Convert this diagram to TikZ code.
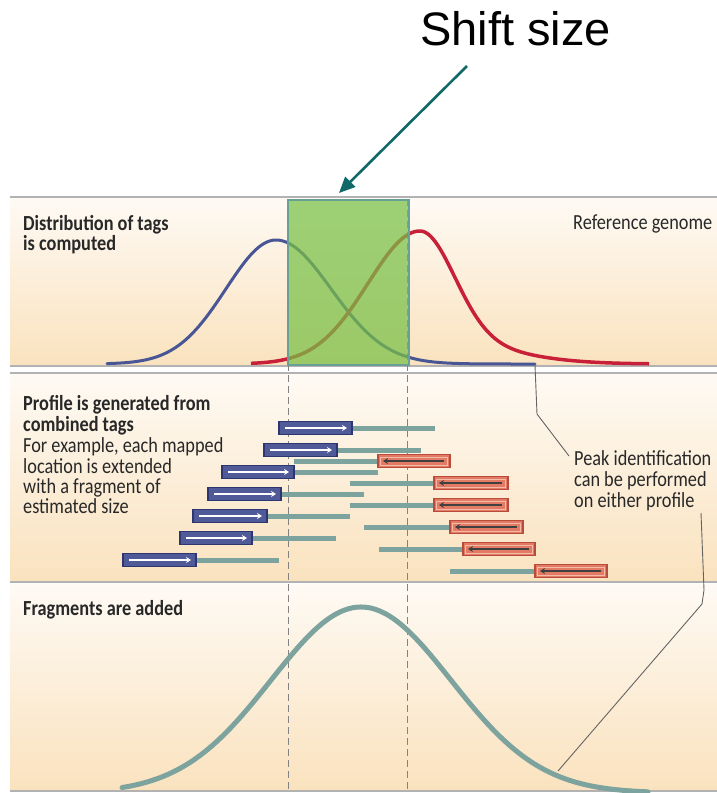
\documentclass[tikz,border=0pt]{standalone}
\usepackage{fontspec}
\setmainfont{Carlito}
\newfontfamily\lblfont[FakeStretch=0.85]{Carlito}
\newfontfamily\arialfont{Liberation Sans}
\usetikzlibrary{arrows.meta}
\definecolor{peach}{RGB}{250,226,190}
\definecolor{cream}{RGB}{254,250,244}
\definecolor{sepgray}{RGB}{178,178,178}
\definecolor{dashgray}{RGB}{130,130,130}
\definecolor{blueline}{RGB}{72,86,150}
\definecolor{redline}{RGB}{200,32,56}
\definecolor{greenfill}{RGB}{120,192,70}
\definecolor{greenedge}{RGB}{105,160,150}
\definecolor{tealbar}{RGB}{124,163,158}
\definecolor{boxblue}{RGB}{80,90,152}
\definecolor{boxblueedge}{RGB}{45,54,110}
\definecolor{boxred}{RGB}{226,122,100}
\definecolor{boxrededge}{RGB}{185,75,60}
\definecolor{boxredinner}{RGB}{245,185,168}
\definecolor{arrowteal}{RGB}{16,104,104}
\definecolor{txtgray}{RGB}{40,40,40}
\definecolor{leader}{RGB}{100,100,100}
\begin{document}
\begin{tikzpicture}[x=1pt,y=-1pt,
  lbl/.style={anchor=base west, inner sep=0pt, text=txtgray, font=\lblfont\fontsize{21.5}{22}\selectfont},
  lblb/.style={lbl, font=\lblfont\bfseries\fontsize{21.5}{22}\selectfont},
  sepline/.style={draw=sepgray, line width=1.4pt},
  guide/.style={draw=dashgray, line width=0.9pt, dash pattern=on 7pt off 4pt},
  fragline/.style={draw=tealbar, line width=5pt},
  bluebox/.style={fill=boxblue, draw=boxblueedge, line width=1.1pt},
  redbox/.style={fill=boxred, draw=boxrededge, line width=1.1pt},
  redinner/.style={draw=boxredinner, line width=0.8pt},
  whitearrow/.style={draw=white, line width=2.2pt, -{Stealth[length=5pt,width=6pt]}},
  darkarrow/.style={draw=black!75, line width=2.2pt, -{Stealth[length=5pt,width=6pt]}},
  leaderline/.style={draw=leader, line width=0.9pt}
]
\useasboundingbox (0,0) rectangle (717,793);
\fill[white] (0,0) rectangle (717,793);

% panels
\shade[top color=cream, bottom color=peach] (10,197) rectangle (717,366);
\shade[top color=cream, bottom color=peach] (10,373) rectangle (717,582);
\shade[top color=cream, bottom color=peach] (10,584) rectangle (717,791);
\draw[sepline] (10,197) -- (717,197);
\draw[sepline] (10,366) -- (717,366);
\draw[sepline] (10,373) -- (717,373);
\draw[sepline] (10,582) -- (717,582);
\draw[sepline] (10,791) -- (717,791);

% dashed guides
\draw[guide] (288,199) -- (288,791);
\draw[guide] (407,199) -- (407,791);

% top curves
\draw[blueline, line width=3pt, line cap=round]
  plot[domain=107:276, samples=60] (\x,{364-124*exp(-0.5*((\x-276)/50)^2)})
  -- plot[domain=276:535, samples=80] (\x,{364-124*exp(-0.5*((\x-276)/55)^2)});
\draw[redline, line width=3.5pt]
  plot[domain=251:420, samples=60] (\x,{364-133*exp(-0.5*((\x-420)/52)^2)})
  -- plot[domain=420:649, samples=90] (\x,{364-133*(0.8*exp(-0.5*((\x-420)/34)^2)+0.2*exp(-0.5*((\x-420)/75)^2))});

% shift window
\draw[fill=greenfill, fill opacity=0.72, draw=greenedge, line width=2pt] (288,200) rectangle (409,365);

% bottom curve
\draw[tealbar, line width=5pt, line cap=round]
  plot[domain=122:648, samples=140] (\x,{793-186*exp(-0.5*((\x-361)/90)^2)});

% fragments: forward tags (blue)
\foreach \y/\a/\b/\c in {428/279/352/435, 450/264/337/421, 472/222/294/378, 494/208/281/364, 516/193/267/350, 538/180/252/336, 560/123/196/279}{
  \draw[fragline] (\b,\y) -- (\c,\y);
  \draw[bluebox] (\a,{\y-6.5}) rectangle (\b,{\y+6.5});
  \draw[whitearrow] ({\a+6},\y) -- ({\b-5},\y);
}
% fragments: reverse tags (red)
\foreach \y/\s/\a/\b in {461/294/378/450, 483/350/434/508, 505/350/434/508, 527/364/450/523, 549/379/463/535, 571/450/535/607}{
  \draw[fragline] (\s,\y) -- (\a,\y);
  \draw[redbox] (\a,{\y-6.5}) rectangle (\b,{\y+6.5});
  \draw[redinner] ({\a+2.5},{\y-4}) rectangle ({\b-2.5},{\y+4});
  \draw[darkarrow] ({\b-6},\y) -- ({\a+5},\y);
}

% texts
\node[anchor=base west, inner sep=0pt, font=\arialfont\fontsize{47}{50}\selectfont] (shift) at (420,45) {Shift size};
\node[lblb] (d1) at (23,230) {Distribution of tags};
\node[lblb] (d2) at (23,250) {is computed};
\node[lbl] (ref) at (573,229) {Reference genome};
\node[lblb] (p1) at (23,410) {Profile is generated from};
\node[lblb] (p2) at (23,431) {combined tags};
\node[lbl] (p3) at (23,452) {For example, each mapped};
\node[lbl] (p4) at (23,473) {location is extended};
\node[lbl] (p5) at (23,493) {with a fragment of};
\node[lbl] (p6) at (23,513) {estimated size};
\node[lblb] (f1) at (23,615) {Fragments are added};
\node[lbl] (k1) at (574,465) {Peak identification};
\node[lbl] (k2) at (574,486) {can be performed};
\node[lbl] (k3) at (574,507) {on either profile};

% shift arrow
\coordinate (sa) at (467,66);
\coordinate (sb) at (339,193);
\draw[arrowteal, line width=2.6pt, -{Triangle[length=16pt,width=14pt]}] (sa) -- (sb);

% leader lines
\coordinate (l1a) at (535,365);
\coordinate (l1b) at (537,414);
\coordinate (l1c) at (569,456);
\draw[leaderline] (l1a) -- (l1b) -- (l1c);
\coordinate (l2a) at (701,513);
\coordinate (l2b) at (704,590);
\coordinate (l2c) at (702,604);
\coordinate (l2d) at (558,771);
\draw[leaderline] (l2a) -- (l2b) -- (l2c) -- (l2d);
\end{tikzpicture}
\end{document}
